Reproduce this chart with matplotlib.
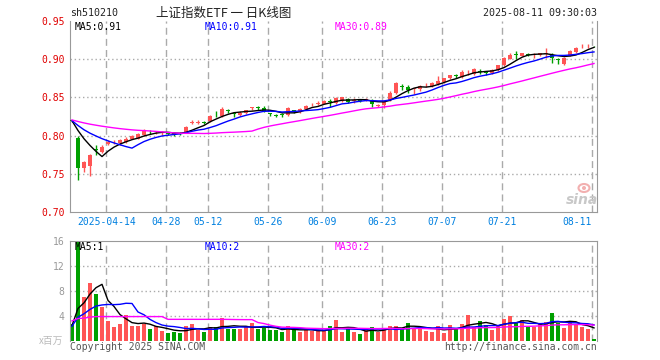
import numpy as np
import pandas as pd
import matplotlib
matplotlib.use("Agg")
import matplotlib.pyplot as plt
from matplotlib.patches import Ellipse

# daily K-line of sh510210, 2025-04-03 .. 2025-08-11 (88 sessions)
OPEN = [0.820, 0.797, 0.757, 0.760, 0.782, 0.779, 0.789, 0.791, 0.790, 0.791,
        0.796, 0.796, 0.801, 0.805, 0.804, 0.803, 0.803, 0.803, 0.803, 0.805,
        0.817, 0.817, 0.818, 0.819, 0.830, 0.826, 0.833, 0.829, 0.827, 0.829,
        0.836, 0.837, 0.836, 0.829, 0.827, 0.828, 0.827, 0.833, 0.831, 0.835,
        0.841, 0.842, 0.842, 0.845, 0.843, 0.845, 0.848, 0.845, 0.847, 0.846,
        0.847, 0.839, 0.840, 0.847, 0.856, 0.865, 0.864, 0.861, 0.861, 0.866,
        0.865, 0.868, 0.870, 0.875, 0.879, 0.877, 0.883, 0.881, 0.885, 0.883,
        0.882, 0.886, 0.892, 0.901, 0.907, 0.905, 0.907, 0.906, 0.906, 0.907,
        0.906, 0.900, 0.894, 0.905, 0.910, 0.917, 0.917, 0.918]
HIGH = [0.821, 0.799, 0.766, 0.776, 0.788, 0.787, 0.794, 0.794, 0.796, 0.798,
        0.801, 0.803, 0.808, 0.807, 0.806, 0.806, 0.804, 0.804, 0.804, 0.812,
        0.820, 0.820, 0.819, 0.827, 0.832, 0.837, 0.835, 0.831, 0.832, 0.834,
        0.838, 0.839, 0.839, 0.830, 0.828, 0.829, 0.838, 0.834, 0.836, 0.840,
        0.843, 0.845, 0.847, 0.848, 0.850, 0.851, 0.849, 0.849, 0.848, 0.849,
        0.848, 0.841, 0.847, 0.858, 0.870, 0.868, 0.867, 0.863, 0.866, 0.869,
        0.870, 0.878, 0.876, 0.880, 0.881, 0.886, 0.886, 0.889, 0.888, 0.884,
        0.888, 0.893, 0.903, 0.909, 0.911, 0.909, 0.908, 0.908, 0.909, 0.915,
        0.908, 0.902, 0.903, 0.912, 0.916, 0.920, 0.920, 0.918]
LOW = [0.818, 0.742, 0.752, 0.747, 0.775, 0.777, 0.788, 0.789, 0.787, 0.790,
       0.795, 0.795, 0.800, 0.802, 0.802, 0.801, 0.801, 0.800, 0.801, 0.804,
       0.815, 0.815, 0.815, 0.818, 0.824, 0.825, 0.829, 0.824, 0.826, 0.828,
       0.834, 0.834, 0.831, 0.826, 0.824, 0.825, 0.826, 0.830, 0.830, 0.834,
       0.839, 0.840, 0.841, 0.838, 0.842, 0.844, 0.843, 0.843, 0.844, 0.845,
       0.837, 0.838, 0.836, 0.846, 0.855, 0.860, 0.856, 0.855, 0.859, 0.864,
       0.864, 0.866, 0.869, 0.874, 0.876, 0.876, 0.879, 0.880, 0.881, 0.880,
       0.881, 0.885, 0.891, 0.900, 0.900, 0.904, 0.905, 0.902, 0.905, 0.902,
       0.895, 0.894, 0.892, 0.904, 0.909, 0.915, 0.915, 0.916]
CLOSE = [0.819, 0.757, 0.765, 0.774, 0.781, 0.785, 0.792, 0.792, 0.794, 0.796,
         0.799, 0.802, 0.806, 0.804, 0.805, 0.804, 0.802, 0.802, 0.802, 0.811,
         0.818, 0.818, 0.817, 0.826, 0.829, 0.835, 0.832, 0.828, 0.830, 0.833,
         0.837, 0.836, 0.832, 0.828, 0.826, 0.827, 0.836, 0.832, 0.835, 0.839,
         0.842, 0.843, 0.846, 0.844, 0.849, 0.850, 0.844, 0.847, 0.846, 0.848,
         0.841, 0.840, 0.846, 0.856, 0.869, 0.864, 0.860, 0.862, 0.865, 0.867,
         0.869, 0.872, 0.875, 0.879, 0.878, 0.883, 0.884, 0.888, 0.884, 0.882,
         0.886, 0.892, 0.902, 0.906, 0.906, 0.908, 0.906, 0.907, 0.908, 0.908,
         0.902, 0.899, 0.902, 0.911, 0.915, 0.918, 0.918, 0.917]
VOLUME = [2.7, 16.0, 7.0, 9.2, 7.5, 5.4, 3.1, 2.2, 2.7, 4.1,
          2.35, 2.35, 2.6, 1.8, 2.35, 1.55, 1.3, 1.45, 1.3, 2.4,
          2.6, 1.75, 1.4, 2.25, 2.2, 3.7, 1.9, 1.9, 1.85, 2.2,
          2.85, 1.9, 2.05, 1.75, 1.75, 1.45, 2.4, 1.65, 1.45, 1.75,
          1.5, 1.65, 1.65, 2.35, 3.3, 1.4, 2.0, 1.4, 1.1, 1.7,
          2.2, 1.4, 2.05, 2.35, 2.35, 2.0, 2.85, 2.05, 2.05, 1.6,
          1.4, 2.35, 1.3, 2.5, 1.8, 2.65, 4.1, 2.15, 3.15, 2.55,
          1.7, 2.35, 3.45, 4.0, 2.8, 3.3, 2.35, 2.15, 2.65, 3.0,
          4.45, 2.85, 2.05, 3.15, 2.65, 2.25, 1.9, 0.3]  # x 1e6

# sessions before the window: not drawn, only feed the moving averages
HIST_CLOSE = [0.818, 0.821, 0.823, 0.822, 0.824, 0.826, 0.825, 0.823, 0.821, 0.822,
              0.820, 0.818, 0.819, 0.821, 0.823, 0.822, 0.820, 0.817, 0.816, 0.818,
              0.820, 0.821, 0.819, 0.818, 0.820, 0.821, 0.819, 0.818, 0.820]
HIST_VOLUME = [4.6, 5.2, 4.4, 4.8, 5.4, 3.1, 2.2, 2.7, 4.1, 2.4,
               2.3, 2.6, 1.8, 2.4, 1.6, 14.5, 1.4, 1.3, 2.4, 2.6,
               1.8, 1.4, 2.2, 2.2, 3.6, 2.3, 2.5, 2.2, 2.4]

TICK_IDX = [6, 16, 23, 33, 42, 52, 62, 72, 87]
TICK_LABELS = ["2025-04-14", "04-28", "05-12", "05-26", "06-09",
               "06-23", "07-07", "07-21", "08-11"]
PRICE_TICKS = [0.70, 0.75, 0.80, 0.85, 0.90, 0.95]
VOL_TICKS = [4, 8, 12, 16]

RED = "#FF5555"
GREEN = "#00A000"
MA_COLORS = {5: "black", 10: "#0000FF", 30: "#FF00FF"}
GRID = "#AAAAAA"
MONO = "DejaVu Sans Mono"
CJK = ["Noto Sans CJK SC", "DejaVu Sans"]

W, H = 660, 360


def fx(px):
    return px / W


def fy(py):
    return 1 - py / H


o, h, l, c = map(np.array, (OPEN, HIGH, LOW, CLOSE))
vol = np.array(VOLUME)
x = np.arange(len(CLOSE))
colors = np.where(c >= o, RED, GREEN)
n_hist = len(HIST_CLOSE)
close_all = pd.Series(HIST_CLOSE + CLOSE)
vol_all = pd.Series(HIST_VOLUME + VOLUME)

fig = plt.figure(figsize=(6.6, 3.6), dpi=100)
ax = fig.add_axes([fx(70), fy(211.7), fx(527), 190.4 / H])
axv = fig.add_axes([fx(70), fy(340.7), fx(527), 100 / H])

for a in (ax, axv):
    a.set_xlim(-1 / 3, 87.5)
    for t in TICK_IDX:
        a.axvline(t - 0.3, color=GRID, lw=1, ls=(0, (5, 3)), zorder=0)
    for side in ("left", "right"):
        a.spines[side].set_color("#999999")
    a.tick_params(length=0)

# price panel
ax.set_ylim(0.70, 0.95)
for yv in PRICE_TICKS[1:-1]:
    ax.axhline(yv, color=GRID, lw=1, ls=(0, (1, 2)), zorder=0)
ax.vlines(x, l, h, colors=colors, lw=1, zorder=2)
ax.bar(x, np.maximum(np.abs(c - o), 0.0008), bottom=np.minimum(o, c),
       width=0.8, color=colors, lw=0, zorder=3)
for n, col in MA_COLORS.items():
    ma = close_all.rolling(n).mean().iloc[n_hist:]
    ax.plot(x, ma.values, color=col, lw=1, zorder=4)
ax.spines["top"].set_visible(False)
ax.spines["bottom"].set_color("#999999")
ax.set_yticks(PRICE_TICKS)
ax.set_yticklabels([f"{v:.2f}" for v in PRICE_TICKS], color="#E00000",
                   fontsize=7, family=MONO)
ax.set_xticks([t - 0.3 for t in TICK_IDX])
ax.set_xticklabels(TICK_LABELS, color="#0080E0", fontsize=7, family=MONO)
ax.get_xticklabels()[-1].set_horizontalalignment("right")
ax.tick_params(axis="y", pad=4)
ax.tick_params(axis="x", pad=4)

# volume panel
axv.set_ylim(0, 16)
for yv in VOL_TICKS[:-1]:
    axv.axhline(yv, color=GRID, lw=1, ls=(0, (1, 2)), zorder=0)
axv.bar(x, vol, width=0.8, color=colors, lw=0, zorder=2)
for n, col in MA_COLORS.items():
    ma = vol_all.rolling(n).mean().iloc[n_hist:]
    axv.plot(x, ma.values, color=col, lw=1, zorder=4)
axv.spines["bottom"].set_visible(False)
axv.spines["top"].set_color("#999999")
axv.set_xticks([])
axv.set_yticks(VOL_TICKS)
axv.set_yticklabels([str(v) for v in VOL_TICKS], color="#999999",
                    fontsize=7, family=MONO)
axv.tick_params(axis="y", pad=4)

# header and labels
fig.text(fx(70), fy(13), "sh510210", fontsize=7.2, family=MONO, color="#222222", va="center")
fig.text(fx(224), fy(13), "上证指数ETF 一 日K线图", fontsize=9, family=CJK,
         color="#222222", ha="center", va="center")
fig.text(fx(597), fy(13), "2025-08-11 09:30:03", fontsize=7.2, family=MONO,
         color="#222222", ha="right", va="center")

fig.text(fx(75), fy(26.5), "MA5:0.91", fontsize=7, family=MONO, color="black", va="center")
fig.text(fx(205), fy(26.5), "MA10:0.91", fontsize=7, family=MONO, color="#0000FF", va="center")
fig.text(fx(335), fy(26.5), "MA30:0.89", fontsize=7, family=MONO, color="#FF00FF", va="center")
fig.text(fx(75), fy(246.5), "MA5:1", fontsize=7, family=MONO, color="black", va="center")
fig.text(fx(205), fy(246.5), "MA10:2", fontsize=7, family=MONO, color="#0000FF", va="center")
fig.text(fx(335), fy(246.5), "MA30:2", fontsize=7, family=MONO, color="#FF00FF", va="center")

fig.text(fx(63), fy(341), "x百万", fontsize=7, family=CJK, color="#BBBBBB", ha="right", va="center")
fig.text(fx(70), fy(346.5), "Copyright 2025 SINA.COM", fontsize=7, family=MONO,
         color="#555555", va="center")
fig.text(fx(597), fy(346.5), "http://finance.sina.com.cn", fontsize=7, family=MONO,
         color="#555555", ha="right", va="center")

# sina watermark: eye logo + word
fig.add_artist(Ellipse((584, H - 188), 11, 8, transform=None, facecolor="none",
                       edgecolor="#F2B0B0", lw=1.5))
fig.add_artist(Ellipse((584, H - 188), 4, 4, transform=None, facecolor="#F2B0B0",
                       edgecolor="none"))
fig.text(fx(582), fy(200), "sina", fontsize=10, family="DejaVu Sans", style="italic",
         weight="bold", color="#C8C8C8", ha="center", va="center")

fig.savefig("out.png", dpi=100)
